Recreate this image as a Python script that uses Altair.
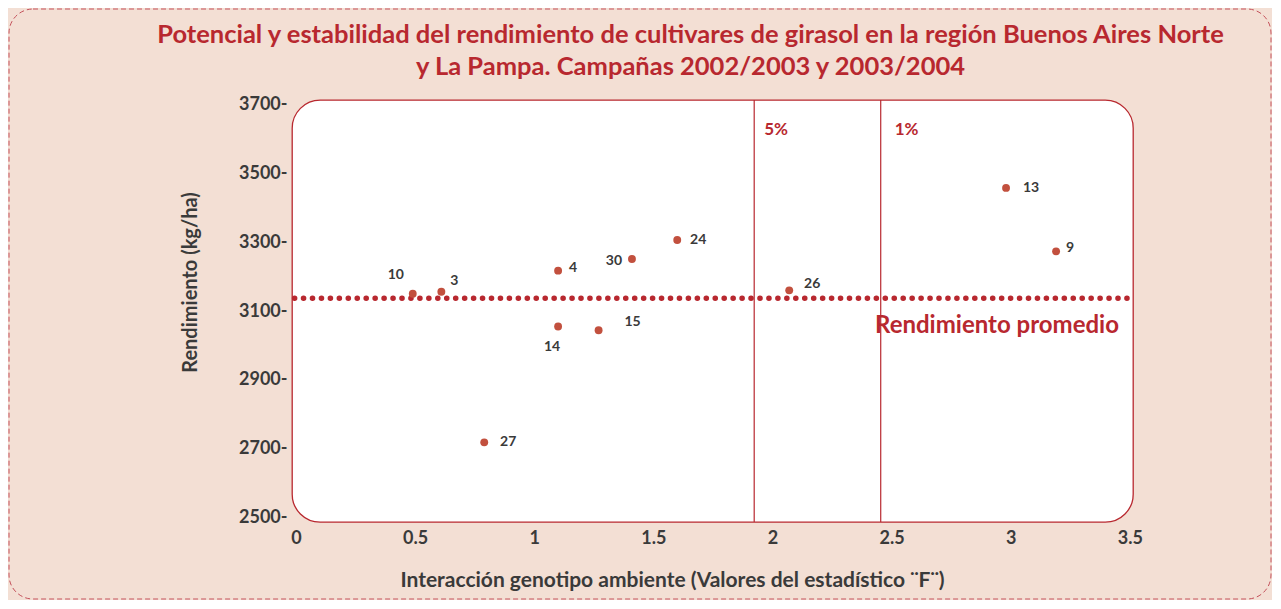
import altair as alt
import pandas as pd

# ---- data ----
cultivars = ["10", "3", "4", "14", "15", "30", "24", "27", "26", "13", "9"]
f_values = [0.49, 0.61, 1.10, 1.10, 1.27, 1.41, 1.60, 0.79, 2.07, 2.98, 3.19]
yields = [3150, 3156, 3217, 3055, 3044, 3251, 3306, 2719, 3160, 3457, 3273]

mean_yield = 3137
thresh_values = [1.923, 2.454]
thresh_labels = ["5%", "1%"]

x_ticks = [0, 0.5, 1, 1.5, 2, 2.5, 3, 3.5]
y_ticks = [2500, 2700, 2900, 3100, 3300, 3500, 3700]

# label placement (pixels, relative to each point)
label_dx = [-17, 13, 15, -6, 34, -18, 21, 24, 23, 25, 14]
label_dy = [-19, -11, -3, 20, -8, 2, 0, 0, -6, 0, -3]
thresh_dx = [10, 14]

RED = "#B8282F"
PT = "#C2503E"
DARK = "#3A3A3A"
BG = "#F3DFD4"
FONT = "Lato"

df = pd.DataFrame({"cultivar": cultivars, "f": f_values, "rend": yields})
thr = pd.DataFrame({"f": thresh_values, "lab": thresh_labels})
mean_df = pd.DataFrame({"rend": [mean_yield]})

xs = alt.Scale(domain=[-0.0168, 3.5128], nice=False, zero=False)
ys = alt.Scale(domain=[2488, 3712], nice=False, zero=False)

x_axis = alt.Axis(
    values=x_ticks, title="Interacción genotipo ambiente (Valores del estadístico ¨F¨)",
    ticks=False, domain=False, grid=False, labelPadding=7, labelFontSize=18,
    labelFont=FONT, labelFontWeight="bold", labelColor=DARK, labelFlush=False,
    titleFont=FONT, titleFontSize=21, titleFontWeight="bold", titleColor=DARK,
    titleX=380, titleY=58, titleAlign="center", titleBaseline="middle",
    labelExpr="datum.value == 0 ? '0' : format(datum.value, '')",
)
y_axis = alt.Axis(
    values=y_ticks, title="Rendimiento (kg/ha)",
    ticks=False, domain=False, grid=False, labelPadding=5, labelFontSize=18,
    labelFont=FONT, labelFontWeight="bold", labelColor=DARK,
    labelExpr="datum.value + '-'",
    titleFont=FONT, titleFontSize=20, titleFontWeight="bold", titleColor=DARK,
    titleAngle=270, titleX=-102, titleY=182, titleAlign="center", titleBaseline="middle",
)

border = alt.Chart(pd.DataFrame({"a": [0]})).mark_rect(
    fill=None, stroke="#C4505A", strokeDash=[5, 3], strokeWidth=1, cornerRadius=24
).encode(x=alt.value(-283), x2=alt.value(979), y=alt.value(-91), y2=alt.value(499))

vlines = alt.Chart(thr).mark_rule(color=RED, strokeWidth=1.2).encode(
    x=alt.X("f:Q", scale=xs, axis=x_axis)
)

thr_texts = [
    alt.Chart(thr[thr.lab == lab]).mark_text(
        align="left", baseline="alphabetic", dx=thresh_dx[i], font=FONT,
        fontSize=17, fontWeight="bold", color=RED
    ).encode(x=alt.X("f:Q", scale=xs), y=alt.datum(3610, scale=ys), text="lab:N")
    for i, lab in enumerate(thresh_labels)
]

mean_line = alt.Chart(mean_df).mark_rule(
    color=RED, strokeWidth=5.5, strokeDash=[0.1, 8.85], strokeCap="round", strokeDashOffset=-6
).encode(y=alt.Y("rend:Q", scale=ys, axis=y_axis))

mean_text = alt.Chart(mean_df).mark_text(
    align="right", baseline="alphabetic", dy=35, font=FONT, fontSize=24,
    fontWeight="bold", color=RED
).encode(x=alt.datum(3.454, scale=xs), y=alt.Y("rend:Q", scale=ys),
         text=alt.value("Rendimiento promedio"))

points = alt.Chart(df).mark_circle(size=62, color=PT, opacity=1).encode(
    x=alt.X("f:Q", scale=xs), y=alt.Y("rend:Q", scale=ys)
)

labels = [
    alt.Chart(df).transform_filter(alt.datum.cultivar == c).mark_text(
        align="center", baseline="middle", dx=label_dx[i], dy=label_dy[i],
        font=FONT, fontSize=14, fontWeight="bold", color=DARK
    ).encode(x=alt.X("f:Q", scale=xs), y=alt.Y("rend:Q", scale=ys), text="cultivar:N")
    for i, c in enumerate(cultivars)
]

chart = alt.layer(border, vlines, *thr_texts, mean_line, mean_text, points, *labels).properties(
    width=841, height=422,
    title=alt.TitleParams(
        ["Potencial y estabilidad del rendimiento de cultivares de girasol en la región Buenos Aires Norte",
         "y La Pampa. Campañas 2002/2003 y 2003/2004"],
        font=FONT, fontSize=25.5, fontWeight="bold", color=RED, anchor="middle",
        dx=-22, dy=92, offset=20, lineHeight=32,
    ),
    autosize=alt.AutoSizeParams(type="none"),
    padding={"left": 284, "top": 92, "right": 139, "bottom": 78},
    background=BG,
).configure_view(
    fill="white", stroke=RED, strokeWidth=1.3, cornerRadius=28
)

chart.save("out.html", embed_options={"renderer": "svg", "actions": False})
